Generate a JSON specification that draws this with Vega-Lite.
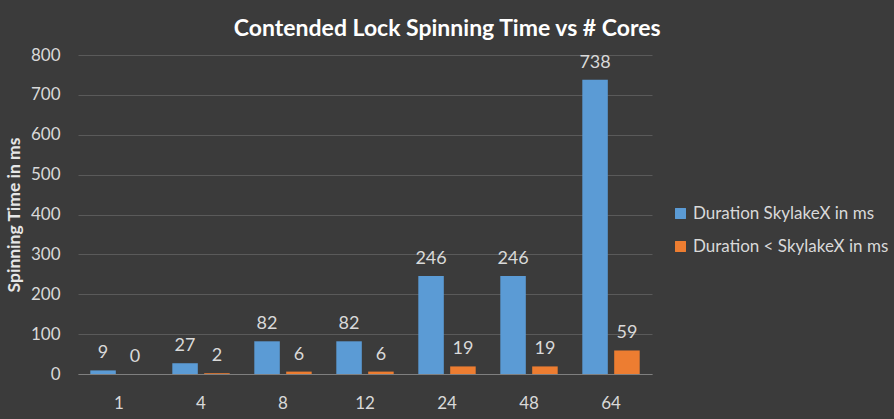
{
  "$schema": "https://vega.github.io/schema/vega-lite/v6.json",
  "width": 574,
  "height": 319,
  "padding": {"left": 5, "top": 18, "right": 5, "bottom": 8},
  "background": "#3b3b3b",
  "title": {
    "text": "Contended Lock Spinning Time vs # Cores",
    "font": "Lato",
    "fontSize": 23,
    "fontWeight": "bold",
    "color": "#ffffff",
    "anchor": "middle",
    "frame": "bounds",
    "offset": 5
  },
  "data": {
    "values": [
      {"cores": "1", "series": "Duration SkylakeX in ms", "ms": 9},
      {"cores": "1", "series": "Duration < SkylakeX in ms", "ms": 0},
      {"cores": "4", "series": "Duration SkylakeX in ms", "ms": 27},
      {"cores": "4", "series": "Duration < SkylakeX in ms", "ms": 2},
      {"cores": "8", "series": "Duration SkylakeX in ms", "ms": 82},
      {"cores": "8", "series": "Duration < SkylakeX in ms", "ms": 6},
      {"cores": "12", "series": "Duration SkylakeX in ms", "ms": 82},
      {"cores": "12", "series": "Duration < SkylakeX in ms", "ms": 6},
      {"cores": "24", "series": "Duration SkylakeX in ms", "ms": 246},
      {"cores": "24", "series": "Duration < SkylakeX in ms", "ms": 19},
      {"cores": "48", "series": "Duration SkylakeX in ms", "ms": 246},
      {"cores": "48", "series": "Duration < SkylakeX in ms", "ms": 19},
      {"cores": "64", "series": "Duration SkylakeX in ms", "ms": 738},
      {"cores": "64", "series": "Duration < SkylakeX in ms", "ms": 59}
    ]
  },
  "encoding": {
    "x": {
      "field": "cores", "type": "nominal", "sort": null, "title": null,
      "scale": {"paddingInner": 0.3, "paddingOuter": 0.15},
      "axis": {"labelAngle": 0, "labelFont": "Lato", "labelFontSize": 17, "labelColor": "#d9d9d9", "ticks": false, "domainColor": "#7f7f7f", "domainWidth": 1, "labelPadding": 21, "grid": false}
    },
    "xOffset": {"field": "series", "type": "nominal", "sort": ["Duration SkylakeX in ms", "Duration < SkylakeX in ms"], "scale": {"paddingInner": 0.2, "paddingOuter": 0}},
    "y": {
      "field": "ms", "type": "quantitative",
      "title": "Spinning Time in ms",
      "scale": {"domain": [0, 800]},
      "axis": {"values": [0,100,200,300,400,500,600,700,800], "labelFont": "Lato", "labelFontSize": 17, "labelColor": "#d9d9d9", "ticks": false, "domain": false, "gridColor": "#5a5a5a", "gridWidth": 1, "labelPadding": 18, "titleFont": "Lato", "titleFontSize": 17.5, "titleFontWeight": "bold", "titleColor": "#e6e6e6", "titlePadding": 7}
    }
  },
  "layer": [
    {
      "mark": {"type": "bar", "stroke": null},
      "encoding": {
        "color": {
          "field": "series", "type": "nominal",
          "sort": ["Duration SkylakeX in ms", "Duration < SkylakeX in ms"],
          "scale": {"range": ["#5b9bd5", "#ed7d31"]},
          "legend": {"title": null, "orient": "none", "legendX": 594, "legendY": 150, "labelFont": "Lato", "labelFontSize": 17, "labelColor": "#d9d9d9", "symbolType": "square", "symbolSize": 120, "symbolStrokeWidth": 0, "rowPadding": 15, "labelOffset": 4, "labelLimit": 300}
        }
      }
    },
    {
      "mark": {"type": "text", "baseline": "bottom", "dy": -8, "font": "Lato", "fontSize": 18, "color": "#d9d9d9"},
      "encoding": {"text": {"field": "ms", "type": "quantitative"}}
    }
  ],
  "config": {"view": {"stroke": null}}
}
